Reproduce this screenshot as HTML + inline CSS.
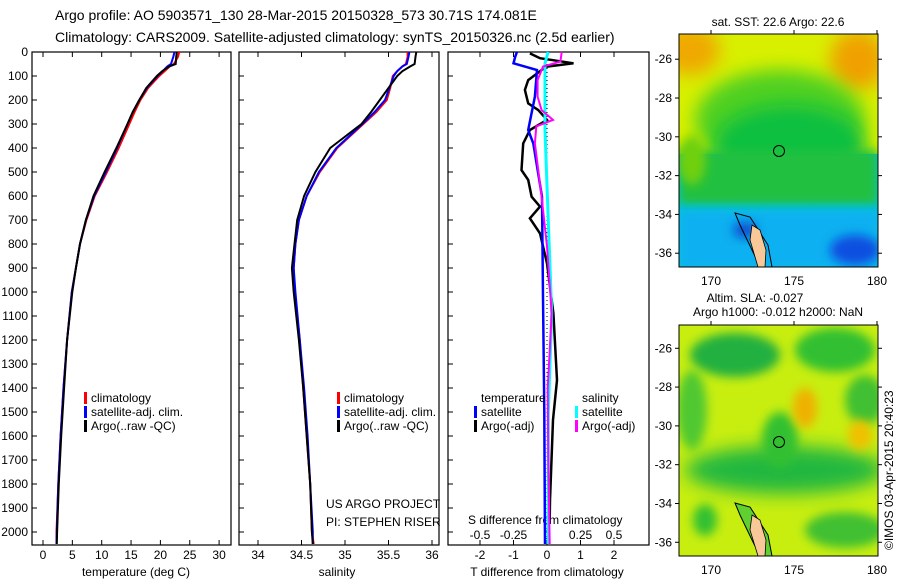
<!DOCTYPE html>
<html><head><meta charset="utf-8"><style>
body{margin:0;background:#fff;width:900px;height:580px;overflow:hidden;font-family:"Liberation Sans",Arial,sans-serif}
svg text{font-family:"Liberation Sans",Arial,sans-serif;fill:#000}
</style></head><body>
<svg id="c" width="900" height="580" xmlns="http://www.w3.org/2000/svg">
<defs>
<filter id="bl" x="-50%" y="-50%" width="200%" height="200%"><feGaussianBlur stdDeviation="9"/></filter>
<filter id="bl2" x="-50%" y="-50%" width="200%" height="200%"><feGaussianBlur stdDeviation="5"/></filter>
<clipPath id="m1"><rect x="679" y="34" width="199" height="233"/></clipPath>
<clipPath id="m2"><rect x="679" y="325" width="199" height="231"/></clipPath>
</defs>
<text x="55" y="20" font-size="14">Argo profile: AO 5903571_130 28-Mar-2015 20150328_573 30.71S 174.081E</text>
<text x="55" y="42" font-size="14">Climatology: CARS2009. Satellite-adjusted climatology: synTS_20150326.nc (2.5d earlier)</text>

<g clip-path="url(#m1)">
<rect x="679" y="34" width="199" height="233" fill="#00c4e0"/>
<rect x="679" y="34" width="199" height="120" fill="#d8f000"/>
<ellipse cx="690" cy="50" rx="30" ry="25" fill="#f0a800" filter="url(#bl)"/>
<ellipse cx="858" cy="60" rx="28" ry="30" fill="#f0a000" filter="url(#bl)"/>
<ellipse cx="780" cy="120" rx="85" ry="50" fill="#50d020" filter="url(#bl)"/>
<ellipse cx="790" cy="145" rx="75" ry="40" fill="#10c040" filter="url(#bl)"/>
<rect x="679" y="150" width="199" height="55" fill="#20c040" filter="url(#bl2)"/>
<ellipse cx="692" cy="160" rx="14" ry="25" fill="#70d010" filter="url(#bl2)"/>
<rect x="679" y="210" width="199" height="60" fill="#10b0f0" filter="url(#bl2)"/>
<ellipse cx="855" cy="250" rx="25" ry="15" fill="#1050e0" filter="url(#bl2)"/>
<ellipse cx="745" cy="230" rx="12" ry="8" fill="#1050d0" filter="url(#bl2)"/>
<polygon points="735,213 750,217 768,245 772,267 760,267 752,250 740,225" fill="none" stroke="#000" stroke-width="1"/>
<polygon points="752,225 760,230 766,250 765,267 758,267 750,240" fill="#f8c898" stroke="#000" stroke-width="0.8"/>
<circle cx="779" cy="151" r="5.5" fill="none" stroke="#000" stroke-width="1"/>
</g>
<rect x="679" y="34" width="199" height="233" fill="none" stroke="#000"/>

<g clip-path="url(#m2)">
<rect x="679" y="325" width="199" height="231" fill="#c8ee10"/>
<ellipse cx="735" cy="355" rx="45" ry="22" fill="#20b040" filter="url(#bl2)"/>
<ellipse cx="835" cy="350" rx="40" ry="22" fill="#30c030" filter="url(#bl2)"/>
<ellipse cx="865" cy="400" rx="20" ry="25" fill="#40c030" filter="url(#bl2)"/>
<ellipse cx="692" cy="410" rx="15" ry="40" fill="#50c830" filter="url(#bl2)"/>
<ellipse cx="785" cy="470" rx="100" ry="24" fill="#20b840" filter="url(#bl)"/>
<ellipse cx="780" cy="440" rx="18" ry="28" fill="#30c030" filter="url(#bl2)"/>
<ellipse cx="805" cy="408" rx="12" ry="20" fill="#f0b000" filter="url(#bl2)"/>
<ellipse cx="860" cy="435" rx="12" ry="15" fill="#f0c000" filter="url(#bl2)"/>
<ellipse cx="845" cy="530" rx="40" ry="18" fill="#40c030" filter="url(#bl2)"/>
<ellipse cx="705" cy="520" rx="12" ry="16" fill="#30c030" filter="url(#bl2)"/>
<polygon points="735,503 750,507 768,535 772,556 760,556 752,540 740,515" fill="#60d030" stroke="#000" stroke-width="1"/>
<polygon points="752,515 760,520 766,540 765,556 758,556 750,530" fill="#f8c898" stroke="#000" stroke-width="0.8"/>
<circle cx="779" cy="442" r="5.5" fill="none" stroke="#000" stroke-width="1"/>
</g>
<rect x="679" y="325" width="199" height="231" fill="none" stroke="#000"/>
<text x="778" y="26" font-size="12" text-anchor="middle">sat. SST: 22.6 Argo: 22.6</text>
<text x="755" y="302" font-size="12" text-anchor="middle">Altim. SLA: -0.027</text>
<text x="778" y="316" font-size="12" text-anchor="middle">Argo h1000: -0.012 h2000: NaN</text>
<text transform="translate(893,550) rotate(-90)" font-size="12">©IMOS 03-Apr-2015 20:40:23</text>

<text x="326" y="508" font-size="12">US ARGO PROJECT</text>
<text x="326" y="526" font-size="12">PI: STEPHEN RISER</text>
<text x="468" y="524" font-size="12">S difference from climatology</text>
<text x="547" y="576" font-size="12" text-anchor="middle">T difference from climatology</text>
<text x="136" y="576" font-size="12" text-anchor="middle">temperature (deg C)</text>
<text x="337" y="576" font-size="12" text-anchor="middle">salinity</text>
<g id="plots"></g>
</svg>
<script>
// depth-profile data
const depthLevels = [0,20,50,60,80,100,150,200,250,300,400,500,600,700,800,900,1000,1200,1400,1600,1800,2000,2050];
const tempArgo = [22.8,22.7,22.6,21.5,20.3,19.4,17.6,16.4,15.3,14.4,12.5,10.5,8.6,7.3,6.3,5.6,5.0,4.1,3.6,3.1,2.7,2.4,2.35];
const tempClim = [23.2,23.0,22.3,21.6,20.7,19.8,17.9,16.6,15.6,14.7,12.9,10.9,8.8,7.4,6.3,5.6,4.9,4.1,3.5,3.0,2.6,2.3,2.3];
const tempSat = [22.4,22.2,21.8,21.2,20.4,19.5,17.7,16.4,15.3,14.4,12.6,10.7,8.7,7.3,6.3,5.6,4.9,4.1,3.5,3.0,2.6,2.35,2.3];
const salArgo = [35.82,35.81,35.80,35.75,35.66,35.60,35.50,35.40,35.30,35.19,34.83,34.66,34.53,34.45,34.42,34.39,34.41,34.47,34.52,34.56,34.60,34.62,34.63];
const salClim = [35.72,35.72,35.70,35.66,35.60,35.55,35.52,35.48,35.36,35.21,34.91,34.71,34.56,34.47,34.43,34.41,34.42,34.48,34.52,34.56,34.60,34.62,34.64];
const salSat = [35.74,35.73,35.71,35.66,35.60,35.56,35.51,35.46,35.34,35.20,34.90,34.70,34.56,34.47,34.43,34.41,34.43,34.48,34.53,34.57,34.60,34.63,34.63];
// difference data
const diffTDepthArgo = [6,26,47,61,75,117,158,214,242,283,325,381,492,533,603,644,693,756,881,1089,1367,1533,1867,1950];
const diffTArgo = [-0.51,-0.21,0.79,0,-0.16,-0.56,-0.66,-0.56,-0.26,0,-0.51,-0.71,-0.76,-0.56,-0.46,-0.21,-0.51,-0.21,0,0.19,0.3,0.18,0.09,0.08];
const diffTDepthSat = [0,20,47,75,186,325,381,603,1019,1500,2050];
const diffTSat = [-0.9,-0.95,-1.0,-0.3,-0.36,-0.56,-0.41,-0.15,-0.12,-0.08,-0.06];
const diffSDepthArgo = [0,40,61,117,186,242,283,310,381,603,810,1089,1400,1700,2050];
const diffSArgo = [0.11,0.10,-0.03,-0.07,-0.07,-0.04,0.045,-0.08,-0.09,-0.04,0,0.035,0.005,0.01,0.02];
const diffSDepthSat = [0,47,325,603,1089,1500,2050];
const diffSSat = [0.008,-0.015,-0.015,0.003,0.035,0.01,0.01];
const depthTicks = [0,100,200,300,400,500,600,700,800,900,1000,1100,1200,1300,1400,1500,1600,1700,1800,1900,2000];
const tempTicks = [0,5,10,15,20,25,30];
const salTicks = [34,34.5,35,35.5,36];
const tdTicks = [-2,-1,0,1,2];
const sdTicks = [-0.5,-0.25,0,0.25,0.5];
const sdTickLabels = ['-0.5','-0.25','0','0.25','0.5'];

const NS='http://www.w3.org/2000/svg';
const g=document.getElementById('plots');
function el(t,a,p){const e=document.createElementNS(NS,t);for(const k in a)e.setAttribute(k,a[k]);(p||g).appendChild(e);return e;}
const TOP=52, BOT=545;
const yD=d=>TOP+d*0.24;
const panels=[
 {l:32,r:231,x:v=>43+v*5.87,name:'temperature-panel'},
 {l:239,r:439,x:v=>258+(v-34)*87,name:'salinity-panel'},
 {l:448,r:649,x:v=>547+v*33.5,name:'difference-panel'}];
const xS=v=>547+v*134;
panels.forEach((p,i)=>{
  const f=el('rect',{x:p.l,y:TOP,width:p.r-p.l,height:BOT-TOP,fill:'none',stroke:'#000','stroke-width':1.2});
  
  
  depthTicks.forEach(d=>{
    const t=el('line',{x1:p.l,x2:p.l+5,y1:yD(d),y2:yD(d),stroke:'#000'});
    
    
  });
});
depthTicks.forEach(d=>{
  const t=el('text',{x:28,y:yD(d)+4,'font-size':12,'text-anchor':'end'});
  t.textContent=d;
  
  
});
function xticks(p,ticks,labels,fn,ly){
  ticks.forEach((v,i)=>{
    const x=fn(v);
    const a=el('line',{x1:x,x2:x,y1:BOT,y2:BOT-5,stroke:'#000'});
    
    
    const b=el('line',{x1:x,x2:x,y1:TOP,y2:TOP+5,stroke:'#000'});
    
    
    const t=el('text',{x:x,y:ly,'font-size':12,'text-anchor':'middle'});
    t.textContent=labels[i];
    
    
  });
}
xticks(panels[0],tempTicks,tempTicks,panels[0].x,559);
xticks(panels[1],salTicks,salTicks,panels[1].x,559);
xticks(panels[2],tdTicks,tdTicks,panels[2].x,559);
sdTicks.forEach((v,i)=>{
  const t=el('text',{x:xS(v),y:539,'font-size':12,'text-anchor':'middle'});
  t.textContent=sdTickLabels[i];
  
  
});
const z=el('line',{x1:547,x2:547,y1:TOP,y2:BOT,stroke:'#000','stroke-dasharray':'1,3'});


function line(ds,vs,fn,col,w,name){
  const pts=ds.map((d,i)=>fn(vs[i]).toFixed(1)+','+yD(d).toFixed(1)).join(' ');
  const e=el('polyline',{points:pts,fill:'none',stroke:col,'stroke-width':w});
  
  
}
line(depthLevels,tempClim,panels[0].x,'#f00',2,'temp-climatology-line');
line(depthLevels,tempSat,panels[0].x,'#00f',2,'temp-satellite-line');
line(depthLevels,tempArgo,panels[0].x,'#000',2,'temp-argo-line');
line(depthLevels,salClim,panels[1].x,'#f00',2,'sal-climatology-line');
line(depthLevels,salSat,panels[1].x,'#00f',2,'sal-satellite-line');
line(depthLevels,salArgo,panels[1].x,'#000',2,'sal-argo-line');
line(diffTDepthArgo,diffTArgo,panels[2].x,'#000',2.5,'t-diff-argo-line');
line(diffTDepthSat,diffTSat,panels[2].x,'#00f',2.5,'t-diff-satellite-line');
line(diffSDepthSat,diffSSat,xS,'#0ff',3,'s-diff-satellite-line');
line(diffSDepthArgo,diffSArgo,xS,'#f0f',2,'s-diff-argo-line');
function leg(x,y,col,txt){
  const m=el('rect',{x:x,y:y-10,width:3,height:12,fill:col});
  
  
  if(txt){const t=el('text',{x:x+7,y:y,'font-size':12});
  t.textContent=txt;
  
  }
}
[[84,0],[337,1]].forEach(([x])=>{
  leg(x,402,'#f00','climatology');leg(x,416,'#00f','satellite-adj. clim.');leg(x,430,'#000','Argo(..raw -QC)');
});
const th=el('text',{x:481,y:402,'font-size':12});th.textContent='temperature';


const sh=el('text',{x:582,y:402,'font-size':12});sh.textContent='salinity';


leg(474,416,'#00f','satellite');leg(474,430,'#000','Argo(-adj)');
leg(575,416,'#0ff','satellite');leg(575,430,'#f0f','Argo(-adj)');
// map axes
function mapAxes(top,bot,latTop,lats){
  const yL=l=>top+(latTop-l)*19.4;
  lats.forEach(l=>{
    const y=yL(l);
    if(y<top||y>bot)return;
    const t=el('line',{x1:878,x2:882,y1:y,y2:y,stroke:'#000'});
    
    
    const t2=el('line',{x1:675,x2:679,y1:y,y2:y,stroke:'#000'});
    
    
    const tx=el('text',{x:672,y:y+4,'font-size':12,'text-anchor':'end'});
    tx.textContent=l;
    
    
  });
  [170,175,180].forEach(lo=>{
    const x=711+(lo-170)*16.6;
    const t=el('line',{x1:x,x2:x,y1:top,y2:top-4,stroke:'#000'});
    
    
    const tx=el('text',{x:x,y:bot+18,'font-size':12,'text-anchor':'middle'});
    tx.textContent=lo;
    
    
  });
}
mapAxes(34,267,-24.7,[-26,-28,-30,-32,-34,-36]);
mapAxes(325,556,-24.8,[-26,-28,-30,-32,-34,-36]);
</script>
</body></html>
